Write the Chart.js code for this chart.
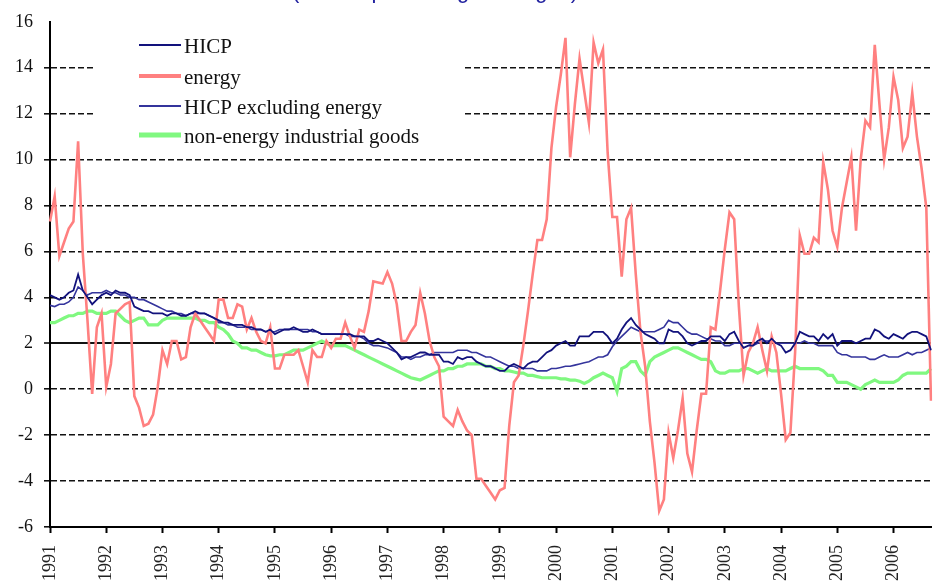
<!DOCTYPE html>
<html>
<head>
<meta charset="utf-8">
<script src="https://cdn.jsdelivr.net/npm/chart.js@4/dist/chart.umd.min.js"></script>
<style>
  body { margin: 0; background: #fff; }
  canvas { display: block; }
</style>
</head>
<body>
<canvas id="hicpChart" width="934" height="584"></canvas>
<script>
// years on the axis, data is monthly from Jan 1991 to Sep 2006
const years = ['1991', '1992', '1993', '1994', '1995', '1996', '1997', '1998',
               '1999', '2000', '2001', '2002', '2003', '2004', '2005', '2006'];
const yTicks = [-6, -4, -2, 0, 2, 4, 6, 8, 10, 12, 14, 16];
const titleText = '(annual percentage changes)';

const hicp = [
    4.1, 4.0, 3.9, 4.0, 4.2, 4.3, 5.0, 4.3, 4.0, 3.7, 3.9, 4.1,
    4.2, 4.1, 4.3, 4.2, 4.2, 4.1, 3.6, 3.5, 3.4, 3.4, 3.3, 3.3,
    3.3, 3.2, 3.3, 3.3, 3.2, 3.2, 3.3, 3.4, 3.3, 3.3, 3.2, 3.1,
    3.0, 2.9, 2.9, 2.8, 2.8, 2.8, 2.7, 2.7, 2.6, 2.6, 2.5, 2.6,
    2.4, 2.5, 2.6, 2.6, 2.7, 2.6, 2.5, 2.5, 2.6, 2.5, 2.4, 2.4,
    2.4, 2.4, 2.4, 2.4, 2.4, 2.3, 2.3, 2.3, 2.1, 2.1, 2.2, 2.1,
    2.0, 1.8, 1.6, 1.3, 1.4, 1.4, 1.5, 1.6, 1.6, 1.5, 1.5, 1.5,
    1.2, 1.2, 1.1, 1.4, 1.3, 1.4, 1.4, 1.2, 1.1, 1.0, 1.0, 0.9,
    0.8, 0.8, 1.0, 1.1, 1.0, 0.9, 1.1, 1.2, 1.2, 1.4, 1.6, 1.7,
    1.9, 2.0, 2.1, 1.9, 1.9, 2.3, 2.3, 2.3, 2.5, 2.5, 2.5, 2.3,
    2.0, 2.2, 2.6, 2.9, 3.1, 2.8, 2.6, 2.4, 2.3, 2.2, 2.0, 2.0,
    2.6, 2.5, 2.5, 2.3, 2.0, 1.9, 2.0, 2.1, 2.1, 2.3, 2.3, 2.3,
    2.1, 2.4, 2.5, 2.1, 1.8, 1.9, 1.9, 2.1, 2.2, 2.0, 2.2, 2.0,
    1.9, 1.6, 1.7, 2.0, 2.5, 2.4, 2.3, 2.3, 2.1, 2.4, 2.2, 2.4,
    1.9, 2.1, 2.1, 2.1, 2.0, 2.1, 2.2, 2.2, 2.6, 2.5, 2.3, 2.2,
    2.4, 2.3, 2.2, 2.4, 2.5, 2.5, 2.4, 2.3, 1.7
];

const energy = [
    7.3, 8.4, 5.8, 6.4, 7.0, 7.3, 10.8, 5.9, 3.0, -0.2, 2.7, 3.3,
    0.1, 1.1, 3.3, 3.5, 3.7, 3.8, -0.3, -0.8, -1.6, -1.5, -1.1, 0.1,
    1.7, 1.1, 2.1, 2.1, 1.3, 1.4, 2.7, 3.3, 3.0, 2.7, 2.4, 2.1,
    3.9, 3.9, 3.1, 3.1, 3.7, 3.6, 2.6, 3.1, 2.5, 2.1, 2.0, 2.7,
    0.9, 0.9, 1.5, 1.5, 1.5, 1.7, 1.0, 0.3, 1.7, 1.4, 1.4, 2.1,
    1.8, 2.2, 2.2, 2.9, 2.3, 1.8, 2.6, 2.5, 3.4, 4.7, 4.65, 4.6,
    5.1, 4.6, 3.7, 2.1, 2.1, 2.5, 2.8, 4.2, 3.3, 2.1, 1.4, 1.0,
    -1.2, -1.4, -1.6, -0.9, -1.4, -1.8, -2.0, -3.9, -3.9, -4.2, -4.5, -4.8,
    -4.4, -4.3, -1.6, 0.3, 0.6, 1.9, 3.4, 5.0, 6.5, 6.5, 7.4, 10.5,
    12.3, 13.7, 15.3, 10.1, 12.4, 14.4, 13.0, 11.6, 15.1, 14.2, 14.8, 10.3,
    7.5, 7.5, 4.9, 7.4, 7.9, 5.0, 2.5, 1.0, -1.4, -3.2, -5.3, -4.8,
    -1.9, -3.0, -1.8, -0.4, -2.8, -3.6, -1.8, -0.2, -0.2, 2.7, 2.6, 4.3,
    6.1, 7.7, 7.4, 3.6, 0.6, 1.6, 2.0, 2.7, 1.7, 0.8, 2.3, 1.6,
    -0.2, -2.2, -1.9, 1.6, 6.7, 5.9, 5.9, 6.6, 6.4, 9.9, 8.7, 6.9,
    6.2, 7.9, 9.0, 10.1, 6.9, 10.0, 11.7, 11.4, 15.0, 12.4, 10.0, 11.4,
    13.6, 12.6, 10.5, 11.0, 12.9, 11.0, 9.6, 7.9, -0.5
];

const hicpExEnergy = [
    3.65, 3.6, 3.7, 3.7, 3.8, 4.0, 4.45, 4.3, 4.1, 4.2, 4.2, 4.2,
    4.3, 4.2, 4.2, 4.1, 4.1, 4.0, 4.0, 3.9, 3.9, 3.8, 3.7, 3.6,
    3.5, 3.4, 3.4, 3.3, 3.3, 3.2, 3.3, 3.3, 3.3, 3.3, 3.2, 3.1,
    2.9, 2.9, 2.8, 2.8, 2.7, 2.7, 2.7, 2.6, 2.6, 2.6, 2.5, 2.5,
    2.5, 2.6, 2.6, 2.6, 2.6, 2.6, 2.6, 2.6, 2.5, 2.5, 2.4, 2.4,
    2.4, 2.4, 2.4, 2.4, 2.3, 2.3, 2.3, 2.2, 2.0, 1.9, 1.9, 1.85,
    1.8, 1.7, 1.6, 1.4, 1.4, 1.3, 1.4, 1.4, 1.5, 1.5, 1.6, 1.6,
    1.6, 1.6, 1.6, 1.7, 1.7, 1.7, 1.6, 1.6, 1.5, 1.4, 1.4, 1.3,
    1.2, 1.1, 1.0, 1.0, 0.9, 0.9, 0.9, 0.9, 0.8, 0.8, 0.8, 0.9,
    0.9, 0.95, 1.0, 1.0, 1.05, 1.1, 1.15, 1.2, 1.3, 1.4, 1.4, 1.5,
    1.85, 2.1, 2.3, 2.5, 2.7, 2.6, 2.5, 2.5, 2.5, 2.5, 2.6, 2.7,
    3.0, 2.9, 2.9, 2.7, 2.5, 2.4, 2.4, 2.3, 2.2, 2.2, 2.1, 2.1,
    1.9, 1.9, 2.0, 2.0, 2.0, 2.0, 1.9, 2.0, 2.1, 2.1, 2.1, 2.0,
    2.0, 2.0, 2.0, 2.0, 2.0, 2.1, 2.0, 2.0, 1.9, 1.9, 1.9, 1.9,
    1.6, 1.5, 1.5, 1.4, 1.4, 1.4, 1.4, 1.3, 1.3, 1.4, 1.5, 1.4,
    1.4, 1.4, 1.5, 1.6, 1.5, 1.6, 1.6, 1.7, 1.8
];

const nonEnergyGoods = [
    2.9, 2.9, 3.0, 3.1, 3.2, 3.2, 3.3, 3.3, 3.4, 3.4, 3.3, 3.3,
    3.3, 3.4, 3.4, 3.2, 3.0, 2.9, 3.0, 3.1, 3.1, 2.8, 2.8, 2.8,
    3.0, 3.1, 3.1, 3.1, 3.1, 3.1, 3.1, 3.1, 3.0, 3.0, 2.9, 2.9,
    2.7, 2.6, 2.4, 2.1, 2.0, 1.8, 1.8, 1.7, 1.7, 1.6, 1.5, 1.45,
    1.45, 1.5, 1.5, 1.6, 1.7, 1.7, 1.7, 1.8, 1.9, 2.0, 2.1, 2.0,
    1.9, 1.9, 1.9, 1.9, 1.8, 1.7, 1.6, 1.5, 1.4, 1.3, 1.2, 1.1,
    1.0, 0.9, 0.8, 0.7, 0.6, 0.5, 0.45, 0.4, 0.5, 0.6, 0.7, 0.8,
    0.8, 0.9, 0.9, 1.0, 1.0, 1.1, 1.1, 1.1, 1.1, 1.0, 1.0, 0.9,
    0.9, 0.8, 0.8, 0.75, 0.7, 0.7, 0.6, 0.6, 0.55, 0.5, 0.5, 0.5,
    0.5, 0.45, 0.45, 0.4, 0.4, 0.35, 0.25, 0.35, 0.5, 0.6, 0.7, 0.6,
    0.5, -0.1, 0.9, 1.0, 1.2, 1.2, 0.8, 0.6, 1.2, 1.4, 1.5, 1.6,
    1.7, 1.8, 1.8, 1.7, 1.6, 1.5, 1.4, 1.3, 1.3, 1.2, 0.8, 0.7,
    0.7, 0.8, 0.8, 0.8, 0.9, 0.9, 0.8, 0.7, 0.8, 0.9, 0.8, 0.8,
    0.8, 0.8, 0.9, 1.0, 0.9, 0.9, 0.9, 0.9, 0.9, 0.8, 0.6, 0.6,
    0.3, 0.3, 0.3, 0.2, 0.1, 0.0, 0.2, 0.3, 0.4, 0.3, 0.3, 0.3,
    0.3, 0.4, 0.6, 0.7, 0.7, 0.7, 0.7, 0.7, 0.9
];

// one label per month, only Januaries show the year
const labels = [];
years.forEach(y => {
    for (let m = 1; m <= 12; m++) {
        if (labels.length < hicp.length) labels.push(y + '-' + String(m).padStart(2, '0'));
    }
});

const serif = "'Liberation Serif', 'Times New Roman', serif";

// title line sits above the picture, only the descenders show
const titlePlugin = {
    id: 'cutTitle',
    afterDraw(chart) {
        const ctx = chart.ctx;
        ctx.save();
        ctx.font = "22px 'Liberation Sans', Arial, sans-serif";
        ctx.fillStyle = '#2323a0';
        ctx.textAlign = 'center';
        ctx.textBaseline = 'alphabetic';
        ctx.fillText(titleText, 435, -2);
        ctx.restore();
    }
};

// legend box inside the plot, covering the grid lines
const boxLegend = {
    id: 'boxLegend',
    beforeDatasetsDraw(chart) {
        const ctx = chart.ctx;
        const rows = [45, 76, 106, 135];
        ctx.save();
        ctx.fillStyle = '#fff';
        ctx.fillRect(96, 30, 367, 120);
        chart.data.datasets.forEach((ds, i) => {
            ctx.strokeStyle = ds.borderColor;
            ctx.lineWidth = ds.legendWidth;
            ctx.beginPath();
            ctx.moveTo(139, rows[i]);
            ctx.lineTo(181, rows[i]);
            ctx.stroke();
            ctx.fillStyle = '#111';
            ctx.font = '21px ' + serif;
            ctx.textAlign = 'left';
            ctx.textBaseline = 'alphabetic';
            ctx.fillText(ds.label, 184, rows[i] + 8);
        });
        ctx.restore();
    }
};

const chart = new Chart(document.getElementById('hicpChart'), {
    type: 'line',
    data: {
        labels: labels,
        datasets: [{
            label: 'HICP',
            data: hicp,
            borderColor: '#12127c',
            borderWidth: 1.8,
            legendWidth: 2
        }, {
            label: 'energy',
            data: energy,
            borderColor: '#ff8080',
            borderWidth: 2.6,
            legendWidth: 4
        }, {
            label: 'HICP excluding energy',
            data: hicpExEnergy,
            borderColor: '#34349c',
            borderWidth: 1.6,
            legendWidth: 2
        }, {
            label: 'non-energy industrial goods',
            data: nonEnergyGoods,
            borderColor: '#80f880',
            borderWidth: 3.2,
            legendWidth: 5
        }]
    },
    options: {
        responsive: false,
        animation: false,
        elements: {
            point: { radius: 0 },
            line: { tension: 0 }
        },
        layout: { padding: { top: 21, right: 3, bottom: 0, left: 0 } },
        plugins: {
            legend: { display: false },
            tooltip: { enabled: false }
        },
        scales: {
            x: {
                grid: {
                    drawOnChartArea: false,
                    drawTicks: true,
                    tickLength: 6,
                    tickWidth: 2,
                    tickColor: (c) => (c.index % 12 === 0 ? '#000' : 'rgba(0,0,0,0)')
                },
                border: { color: '#000', width: 2 },
                ticks: {
                    autoSkip: false,
                    maxRotation: 90,
                    minRotation: 90,
                    padding: 12,
                    color: '#222',
                    font: { family: serif, size: 18 },
                    callback: function (val, i) {
                        return i % 12 === 0 ? years[i / 12] : '';
                    }
                },
                afterFit: (scale) => {
                    scale.height = 57;
                    scale.paddingLeft = 0;
                    scale.paddingRight = 0;
                }
            },
            y: {
                min: yTicks[0],
                max: yTicks[yTicks.length - 1],
                afterBuildTicks: (scale) => {
                    scale.ticks = yTicks.map(v => ({ value: v }));
                },
                grid: {
                    color: (c) => {
                        const v = c.tick ? c.tick.value : null;
                        return (v === 16 || v === -6) ? 'rgba(0,0,0,0)' : '#111';
                    },
                    lineWidth: (c) => (c.tick && c.tick.value === 2 ? 2 : 1.6),
                    tickLength: 6,
                    tickWidth: 1.6,
                    tickColor: (c) => (c.tick && c.tick.value === 16 ? 'rgba(0,0,0,0)' : '#111')
                },
                border: {
                    color: '#000',
                    width: 2,
                    dash: (c) => (c.tick && c.tick.value !== 2 ? [6, 3] : [])
                },
                ticks: {
                    padding: 11,
                    color: '#111',
                    font: { family: serif, size: 18 }
                },
                afterFit: (scale) => { scale.width = 50; }
            }
        }
    },
    plugins: [boxLegend, titlePlugin]
});
</script>
</body>
</html>
